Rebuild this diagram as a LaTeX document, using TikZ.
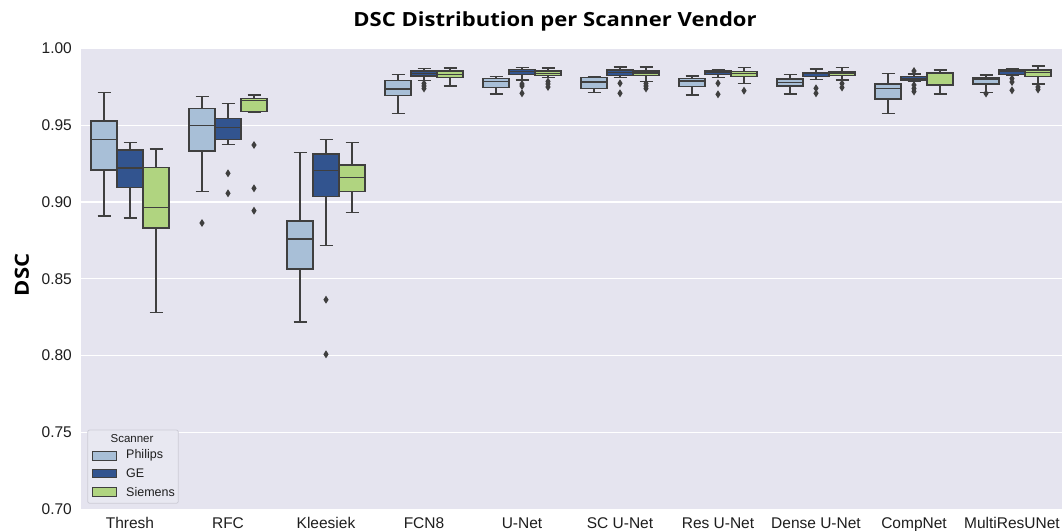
\documentclass[tikz,border=0pt]{standalone}
\usepackage{fontspec}
\setmainfont{Liberation Sans}
\newfontfamily\tfont{Open Sans}
\definecolor{bgc}{RGB}{229,228,239}
\definecolor{phc}{RGB}{168,191,215}
\definecolor{gec}{RGB}{50,84,143}
\definecolor{sic}{RGB}{176,212,128}
\definecolor{lnc}{RGB}{63,63,63}
\definecolor{txc}{RGB}{30,30,30}
\tikzset{
  wsk/.style={draw=lnc, line width=1.5pt},
  boxln/.style={draw=lnc, line width=1.5pt},
  grid/.style={draw=white, line width=1.2pt},
  ticklbl/.style={font=\fontsize{15.5}{16}\selectfont, text=txc, inner sep=0pt},
  outl/.style={fill=lnc, draw=none},
  bigbold/.style={font=\tfont\bfseries\fontsize{19.5}{21}\selectfont, inner sep=0pt},
}
% center, whisker top, q3, median, q1, whisker bottom, colour
\newcommand\bxplot[7]{%
  \draw[wsk] (#1,#2) -- (#1,#3) (#1,#5) -- (#1,#6) (#1-6.5,#2) -- (#1+6.5,#2) (#1-6.5,#6) -- (#1+6.5,#6);
  \draw[boxln, fill=#7] (#1-13,#3) rectangle (#1+13,#5);
  \draw[boxln] (#1-13,#4) -- (#1+13,#4);}
\newcommand\outp[2]{\fill[outl] (#1,#2-4) -- (#1+2.6,#2) -- (#1,#2+4) -- (#1-2.6,#2) -- cycle;}
\begin{document}
\begin{tikzpicture}[x=1pt,y=-1pt]
\useasboundingbox (0,0) rectangle (1062,530);
\fill[white] (0,0) rectangle (1062,530);
% plot area
\fill[bgc] (81,48.3) rectangle (1062,509.1);
\foreach \yy in {48.3,125.1,201.9,278.7,355.5,432.3,509.1} {\draw[grid] (81,\yy) -- (1062,\yy);}
% y tick labels
\foreach \yy/\lab [count=\i] in {48.3/1.00,125.1/0.95,201.9/0.90,278.7/0.85,355.5/0.80,432.3/0.75,509.1/0.70}
  {\node[ticklbl, anchor=east] (yt\i) at (72,\yy) {\lab};}
% x tick labels
\foreach \lab [count=\i from 0] in {Thresh,RFC,Kleesiek,FCN8,U-Net,SC U-Net,Res U-Net,Dense U-Net,CompNet,MultiResUNet}
  {\node[ticklbl, anchor=base] (xt\i) at (130+98*\i,528.5) {\lab};}
% title and axis label
\node[bigbold, anchor=base] (title) at (555,27) {\scalebox{1.13}[1]{DSC Distribution per Scanner Vendor}};
\node[bigbold, rotate=90] (ylab) at (22,275) {\scalebox{1.13}[1]{DSC}};
% Thresh
\bxplot{104}{92.7}{121}{139.3}{170}{216}{phc}
\bxplot{130}{142.3}{150}{168}{187.3}{218}{gec}
\bxplot{156}{149}{167.3}{207.3}{228}{312.3}{sic}
% RFC
\bxplot{202}{96.7}{108.3}{125.3}{151}{191.3}{phc}
\bxplot{228}{103.3}{118.3}{127.7}{139.7}{144.7}{gec}
\bxplot{254}{95}{98.3}{100.7}{111.7}{112.3}{sic}
\outp{202}{223}\outp{228}{173.3}\outp{228}{193.3}
\outp{254}{145}\outp{254}{188.3}\outp{254}{210.7}
% Kleesiek
\bxplot{300}{152.7}{221}{239}{269}{322}{phc}
\bxplot{326}{139.7}{154}{170.7}{196.7}{245.7}{gec}
\bxplot{352}{142.3}{165}{177.7}{191.3}{212.7}{sic}
\outp{326}{299.7}\outp{326}{354.3}
% FCN8
\bxplot{398}{74.7}{80.7}{89}{95.7}{113.7}{phc}
\bxplot{424}{68.7}{71}{73.3}{76}{80.7}{gec}
\bxplot{450}{68}{71}{74.3}{77.7}{86}{sic}
\outp{424}{83.5}\outp{424}{86}\outp{424}{88.5}
% U-Net
\bxplot{496}{76.3}{78.3}{81.7}{87.7}{94}{phc}
\bxplot{522}{67.3}{69.3}{71.7}{74.3}{80}{gec}
\bxplot{548}{68}{71}{73.3}{75.3}{77.3}{sic}
\outp{522}{84}\outp{522}{86}\outp{522}{93.3}
\outp{548}{81.5}\outp{548}{84}\outp{548}{87}
% SC U-Net
\bxplot{594}{76.7}{77.7}{82}{88.3}{92.7}{phc}
\bxplot{620}{67}{70}{72.3}{75.7}{77.3}{gec}
\bxplot{646}{67}{71}{73}{75.3}{81.3}{sic}
\outp{620}{83.3}\outp{620}{93.3}
\outp{646}{83.5}\outp{646}{86}\outp{646}{88.5}
% Res U-Net
\bxplot{692}{76}{78.3}{81}{86.7}{95}{phc}
\bxplot{718}{69.3}{71}{72.3}{74.3}{77.3}{gec}
\bxplot{744}{67.7}{71.3}{73.7}{76.7}{83.7}{sic}
\outp{718}{83.3}\outp{718}{94.3}\outp{744}{90.7}
% Dense U-Net
\bxplot{790}{74.7}{79}{82.3}{86}{94}{phc}
\bxplot{816}{69}{72.3}{73.7}{76.7}{79.3}{gec}
\bxplot{842}{67.7}{71.3}{73}{75.7}{80}{sic}
\outp{816}{88.3}\outp{816}{93.3}
\outp{842}{83.5}\outp{842}{87.5}
% CompNet
\bxplot{888}{73.3}{84}{88.3}{99}{113.3}{phc}
\bxplot{914}{74}{76.7}{78.3}{80}{81.5}{gec}
\bxplot{940}{70}{72.3}{73.3}{85}{94}{sic}
\outp{914}{71}\outp{914}{85}\outp{914}{88.5}\outp{914}{91.5}
% MultiResUNet
\bxplot{986}{75}{77.3}{79}{84}{92.7}{phc}
\bxplot{1012}{69}{70}{71.7}{74.3}{75}{gec}
\bxplot{1038}{66}{70}{72.7}{76.7}{84}{sic}
\outp{986}{93.5}
\outp{1012}{78.5}\outp{1012}{82}\outp{1012}{90.3}
\outp{1038}{87}\outp{1038}{89.5}
% legend
\draw[draw={rgb,255:red,204;green,204;blue,214}, fill={rgb,255:red,232;green,232;blue,241}, line width=0.8pt, rounded corners=2pt] (87.7,430) rectangle (178.3,503.3);
\node[font=\fontsize{11.5}{12}\selectfont, text=txc, inner sep=0pt] (legt) at (132,439) {Scanner};
\draw[draw=lnc, line width=0.9pt, fill=phc] (92.3,451.3) rectangle (116.7,460);
\draw[draw=lnc, line width=0.9pt, fill=gec] (92.3,469.3) rectangle (116.7,477.7);
\draw[draw=lnc, line width=0.9pt, fill=sic] (92.3,487.3) rectangle (116.7,496);
\node[font=\fontsize{12.5}{13}\selectfont, text=txc, anchor=west, inner sep=0pt] (lp) at (126,455.7) {Philips};
\node[font=\fontsize{12.5}{13}\selectfont, text=txc, anchor=west, inner sep=0pt] (lg) at (126,473.5) {GE};
\node[font=\fontsize{12.5}{13}\selectfont, text=txc, anchor=west, inner sep=0pt] (ls) at (126,491.7) {Siemens};
\end{tikzpicture}
\end{document}
